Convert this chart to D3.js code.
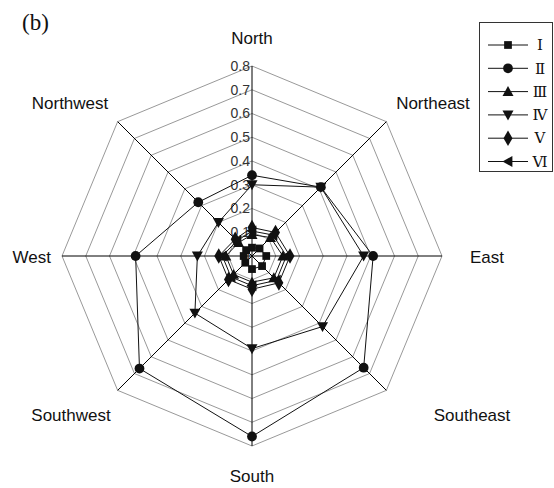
<!DOCTYPE html>
<html>
<head>
<meta charset="utf-8">
<script src="https://cdn.jsdelivr.net/npm/d3@7"></script>
<style>
  body { margin: 0; background: #fff; }
  svg { display: block; }
</style>
</head>
<body>
<div id="chart"></div>
<script>
const directions = ["North", "Northeast", "East", "Southeast", "South", "Southwest", "West", "Northwest"];
const seriesNames = ["I", "II", "III", "IV", "V", "VI"];
const seriesLabels = ["\u2160", "\u2161", "\u2162", "\u2163", "\u2164", "\u2165"];
const ticks = [0, 0.1, 0.2, 0.3, 0.4, 0.5, 0.6, 0.7, 0.8];

const valuesI   = [0.035, 0.045, 0.06, 0.06, 0.055, 0.04, 0.035, 0.035];
const valuesII  = [0.34, 0.41, 0.51, 0.665, 0.76, 0.67, 0.49, 0.32];
const valuesIII = [0.09, 0.11, 0.13, 0.13, 0.11, 0.11, 0.11, 0.08];
const valuesIV  = [0.30, 0.41, 0.47, 0.42, 0.39, 0.34, 0.23, 0.20];
const valuesV   = [0.12, 0.14, 0.16, 0.16, 0.14, 0.14, 0.14, 0.10];
const valuesVI  = [0.105, 0.125, 0.145, 0.145, 0.125, 0.125, 0.125, 0.09];

const allValues = [valuesI, valuesII, valuesIII, valuesIV, valuesV, valuesVI];
const markerTypes = [d3.symbolSquare, d3.symbolCircle, "up", "down", d3.symbolDiamond, "left"];

const width = 554, height = 488;
const cx = 252, cy = 256;
const maxR = 190;

const svg = d3.select("#chart").append("svg")
    .attr("width", width)
    .attr("height", height);

const r = d3.scaleLinear().domain([0, 0.8]).range([0, maxR]);
const angle = d3.scaleLinear().domain([0, directions.length]).range([0, 2 * Math.PI]);

function point(i, v) {
    const a = angle(i);
    return [cx + r(v) * Math.sin(a), cy - r(v) * Math.cos(a)];
}

// grid octagons
const grid = svg.append("g");
ticks.slice(1).forEach(t => {
    const pts = directions.map((d, i) => point(i, t));
    grid.append("polygon")
        .attr("points", pts.map(p => p.join(",")).join(" "))
        .attr("fill", "none")
        .attr("stroke", "#999")
        .attr("stroke-width", 1);
});

// spokes
directions.forEach((d, i) => {
    const p = point(i, 0.8);
    grid.append("line")
        .attr("x1", cx).attr("y1", cy)
        .attr("x2", p[0]).attr("y2", p[1])
        .attr("stroke", "#000")
        .attr("stroke-width", 1);
});

// tick labels
ticks.forEach(t => {
    svg.append("text")
        .attr("x", cx - 2)
        .attr("y", cy - r(t))
        .attr("dy", "0.35em")
        .attr("text-anchor", "end")
        .attr("font-family", "Liberation Sans, Arial, sans-serif")
        .attr("font-size", "14px")
        .attr("fill", "#333")
        .text(t === 0 ? "0" : t.toFixed(1));
});

// direction labels
const labelPos = [
    [252, 44, "middle"], [433, 109, "middle"], [470, 263, "start"], [472, 421, "middle"],
    [252, 482, "middle"], [71, 421, "middle"], [51, 263, "end"], [70, 109, "middle"]
];
directions.forEach((d, i) => {
    svg.append("text")
        .attr("x", labelPos[i][0])
        .attr("y", labelPos[i][1])
        .attr("text-anchor", labelPos[i][2])
        .attr("font-family", "Liberation Sans, Arial, sans-serif")
        .attr("font-size", "17px")
        .attr("fill", "#111")
        .text(d);
});

function drawMarker(g, type, x, y) {
    if (typeof type === "string") {
        const s = 5.5;
        let pts;
        if (type === "up") pts = [[0, -s], [s, s * 0.8], [-s, s * 0.8]];
        if (type === "down") pts = [[0, s], [s, -s * 0.8], [-s, -s * 0.8]];
        if (type === "left") pts = [[-s, 0], [s * 0.8, -s], [s * 0.8, s]];
        g.append("polygon")
            .attr("points", pts.map(p => (p[0] + x) + "," + (p[1] + y)).join(" "))
            .attr("fill", "#111");
    } else {
        const size = type === d3.symbolDiamond ? 70 : (type === d3.symbolSquare ? 60 : 75);
        g.append("path")
            .attr("d", d3.symbol().type(type).size(size)())
            .attr("transform", `translate(${x},${y})`)
            .attr("fill", "#111");
    }
}

// series
const line = d3.line().curve(d3.curveLinearClosed);
allValues.forEach((vals, s) => {
    const pts = vals.map((v, i) => point(i, v));
    const g = svg.append("g");
    g.append("path")
        .attr("d", line(pts))
        .attr("fill", "none")
        .attr("stroke", "#111")
        .attr("stroke-width", 1);
    pts.forEach(p => drawMarker(g, markerTypes[s], p[0], p[1]));
});

// legend
const lg = svg.append("g");
lg.append("rect")
    .attr("x", 479.5).attr("y", 22.5)
    .attr("width", 73).attr("height", 149)
    .attr("fill", "#fff")
    .attr("stroke", "#333")
    .attr("stroke-width", 1);
seriesNames.forEach((n, i) => {
    const y = 45 + i * 23.3;
    lg.append("line")
        .attr("x1", 488).attr("x2", 528)
        .attr("y1", y).attr("y2", y)
        .attr("stroke", "#111");
    drawMarker(lg, markerTypes[i], 508, y);
    lg.append("text")
        .attr("x", 540).attr("y", y)
        .attr("dy", "0.35em")
        .attr("text-anchor", "middle")
        .attr("font-family", "DejaVu Serif, Liberation Serif, serif")
        .attr("font-size", "15px")
        .attr("fill", "#111")
        .text(seriesLabels[i]);
});

svg.append("text")
    .attr("x", 22).attr("y", 30)
    .attr("font-family", "Liberation Serif, Times New Roman, serif")
    .attr("font-size", "23px")
    .attr("fill", "#111")
    .text("(b)");
</script>
</body>
</html>
